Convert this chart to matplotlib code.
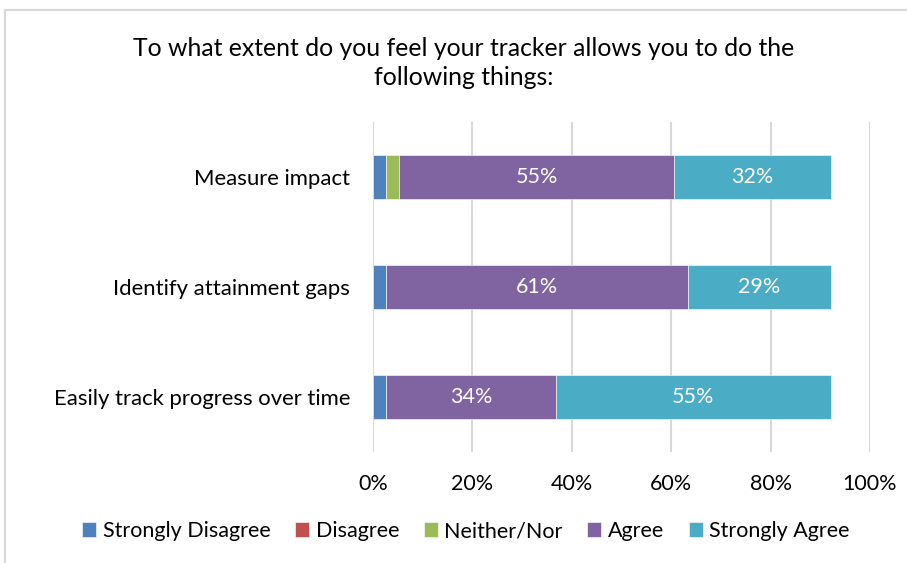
import matplotlib
matplotlib.use("Agg")
import matplotlib.pyplot as plt
import numpy as np
from matplotlib.patches import Rectangle

plt.rcParams['font.family'] = ['Lato', 'DejaVu Sans']

categories = ["Measure impact", "Identify attainment gaps", "Easily track progress over time"]
series_names = ["Strongly Disagree", "Disagree", "Neither/Nor", "Agree", "Strongly Agree"]
strongly_disagree = [2.6, 2.7, 2.7]
disagree = [0.0, 0.0, 0.0]
neither = [2.7, 0.0, 0.0]
agree = [55.2, 60.6, 34.1]
strongly_agree = [31.6, 28.8, 55.3]
colors = ["#4F81BD", "#C0504D", "#9BBB59", "#8064A2", "#4BACC6"]
title = "To what extent do you feel your tracker allows you to do the\nfollowing things:"
xticks = [0, 20, 40, 60, 80, 100]

data = [strongly_disagree, disagree, neither, agree, strongly_agree]

fig = plt.figure(figsize=(9.07, 5.63), dpi=100)
ax = fig.add_axes([373/907, 1-452/563, (870-373)/907, (452-122)/563])

y = np.arange(len(categories))[::-1]
left = np.zeros(len(categories))
for vals, name, col in zip(data, series_names, colors):
    vals = np.array(vals)
    ax.barh(y, vals, left=left, height=0.4, color=col, label=name,
            edgecolor='white', linewidth=0.4)
    if name in ("Agree", "Strongly Agree"):
        for yi, l, v in zip(y, left, vals):
            ax.text(l + v/2, yi, f"{round(v):.0f}%", ha='center', va='center',
                    color='white', fontsize=15.5)
    left += vals

ax.set_xlim(0, 100)
ax.set_ylim(-0.5, 2.5)
ax.set_xticks(xticks)
ax.set_xticklabels([f"{t}%" for t in xticks], fontsize=15.5, color='#000000')
ax.set_yticks(y)
ax.set_yticklabels(categories, fontsize=15.9, color='#000000')
ax.tick_params(axis='both', length=0)
ax.tick_params(axis='y', pad=16.5)
ax.tick_params(axis='x', pad=16)
for s in ax.spines.values():
    s.set_visible(False)
ax.xaxis.grid(True, color='#D9D9D9', linewidth=1.5)
ax.set_axisbelow(True)

fig.text(464/907, 1-63/563, title, ha='center', va='center', fontsize=17.8,
         linespacing=1.35)

handles, labels = ax.get_legend_handles_labels()
fig.legend(handles, labels, loc='center', bbox_to_anchor=(466/907, 1-531/563),
           ncol=5, frameon=False, fontsize=15.5, handlelength=0.65,
           handleheight=0.65, handletextpad=0.3, columnspacing=1.15)

fig.patches.append(Rectangle((5/907, -0.1), 1.2, 1-9.5/563+0.1, transform=fig.transFigure,
                             fill=False, edgecolor='#D9D9D9', linewidth=1.5))

fig.savefig("out.png", dpi=100)
